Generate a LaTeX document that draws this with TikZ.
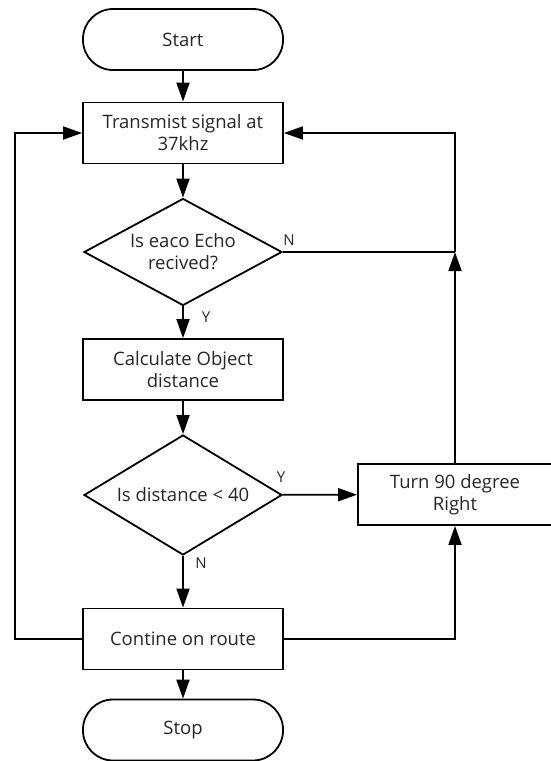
\documentclass[tikz,border=0pt]{standalone}
\usepackage{fontspec}
\setmainfont{Open Sans}
\usetikzlibrary{shapes.geometric,arrows.meta}
\begin{document}
\begin{tikzpicture}[x=1pt,y=-1pt,
  every node/.style={font=\fontsize{18.5}{22}\selectfont, text=black!85},
  box/.style={draw, line width=1.8pt, minimum width=200pt, minimum height=61pt, align=center, inner sep=0pt},
  term/.style={box, rounded corners=30pt},
  dec/.style={draw, line width=1.8pt, diamond, minimum width=198pt, align=center, inner sep=-30pt},
  conn/.style={line width=1.8pt, -{Triangle[length=19pt,width=13pt]}},
  plain/.style={line width=1.8pt},
  lbl/.style={font=\fontsize{15}{17}\selectfont}]
\useasboundingbox (0,0) rectangle (551,761);
\node[term] (start) at (183,39.5) {Start};
\node[box] (tx) at (183,133) {Transmist signal at\\37khz};
\node[dec, minimum height=107pt] (d1) at (183,252) {Is eaco Echo\\recived?};
\node[box] (calc) at (183,369.5) {Calculate Object\\distance};
\node[dec, minimum height=120pt] (d2) at (183,495) {Is distance {<} 40};
\node[box, minimum width=194pt] (turn) at (455,494.5) {Turn 90 degree\\Right};
\node[box] (cont) at (183,639) {Contine on route};
\node[term] (stop) at (183,730) {Stop};
\coordinate (lb) at (15,639);
\coordinate (j) at (455,252);
\draw[conn] (start) -- (tx);
\draw[conn] (tx) -- (d1);
\draw[conn] (d1) -- (calc);
\draw[conn] (calc) -- (d2);
\draw[conn] (d2) -- (cont);
\draw[conn] (d2) -- (turn);
\draw[conn] (cont) -- (stop);
\draw[conn] (cont.west) -- (lb) |- (tx.west);
\draw[conn] (cont.east) -| (turn.south);
\draw[conn] (turn.north) -- (j);
\draw[conn] (j) |- (tx.east);
\draw[plain] (d1.east) -- (j);
\node[lbl] (n1) at (289,240) {N};
\node[lbl] (y1) at (206,317) {Y};
\node[lbl] (y2) at (281,477) {Y};
\node[lbl] (n2) at (201,563) {N};
\end{tikzpicture}
\end{document}
